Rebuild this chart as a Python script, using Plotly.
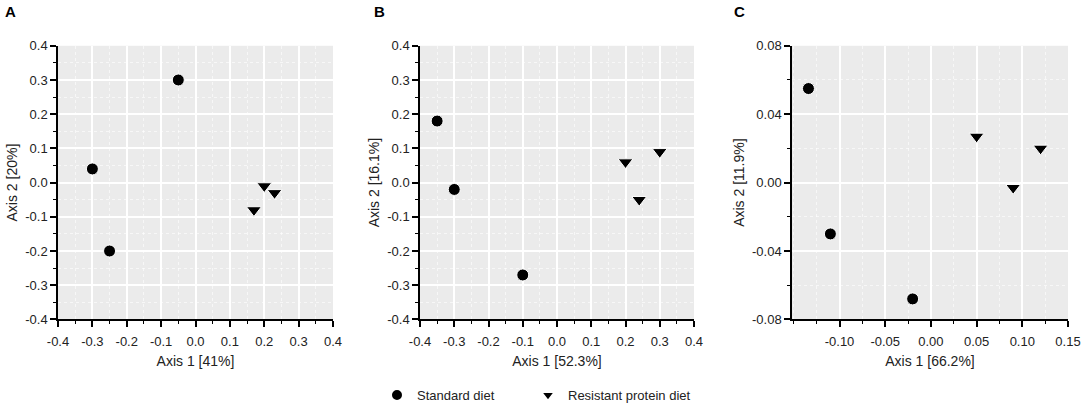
import plotly.graph_objects as go

# PCoA coordinates
a_std_x = [-0.05, -0.30, -0.25]
a_std_y = [0.30, 0.04, -0.20]
a_res_x = [0.20, 0.23, 0.17]
a_res_y = [-0.01, -0.03, -0.08]

b_std_x = [-0.35, -0.30, -0.10]
b_std_y = [0.18, -0.02, -0.27]
b_res_x = [0.20, 0.30, 0.24]
b_res_y = [0.06, 0.09, -0.05]

c_std_x = [-0.134, -0.11, -0.02]
c_std_y = [0.055, -0.03, -0.068]
c_res_x = [0.05, 0.09, 0.12]
c_res_y = [0.027, -0.003, 0.02]

panel_labels = ["A", "B", "C"]
x_titles = ["Axis 1 [41%]", "Axis 1 [52.3%]", "Axis 1 [66.2%]"]
y_titles = ["Axis 2 [20%]", "Axis 2 [16.1%]", "Axis 2 [11.9%]"]
group_names = ["Standard diet", "Resistant protein diet"]

# tick values / labels (hyphen minus as in the original)
ab_ticks = [-0.4, -0.3, -0.2, -0.1, 0.0, 0.1, 0.2, 0.3, 0.4]
ab_labels = ["-0.4", "-0.3", "-0.2", "-0.1", "0.0", "0.1", "0.2", "0.3", "0.4"]
c_xticks = [-0.10, -0.05, 0.00, 0.05, 0.10, 0.15]
c_xlabels = ["-0.10", "-0.05", "0.00", "0.05", "0.10", "0.15"]
c_yticks = [-0.08, -0.04, 0.00, 0.04, 0.08]
c_ylabels = ["-0.08", "-0.04", "0.00", "0.04", "0.08"]

FONT = "Liberation Sans, Arial, sans-serif"

fig = go.Figure()

panels = [
    (a_std_x, a_std_y, a_res_x, a_res_y),
    (b_std_x, b_std_y, b_res_x, b_res_y),
    (c_std_x, c_std_y, c_res_x, c_res_y),
]

for i, (sx, sy, rx, ry) in enumerate(panels):
    xa = "x" if i == 0 else "x%d" % (i + 1)
    ya = "y" if i == 0 else "y%d" % (i + 1)
    fig.add_trace(go.Scatter(
        x=sx, y=sy, mode="markers", name=group_names[0],
        xaxis=xa, yaxis=ya, showlegend=(i == 0), legend="legend",
        marker=dict(symbol="circle", size=12, color="black",
                    line=dict(color="white", width=1)),
    ))
    fig.add_trace(go.Scatter(
        x=rx, y=ry, mode="markers", name=group_names[1],
        xaxis=xa, yaxis=ya, showlegend=(i == 0), legend="legend2",
        marker=dict(symbol="triangle-down", size=13, color="black",
                    line=dict(color="white", width=1)),
    ))

W, H = 1084, 410
x_domains = [[58 / W, 333 / W], [420 / W, 694 / W], [792 / W, 1068 / W]]
y_domain = [1 - 321 / H, 1 - 46 / H]

x_ranges = [[-0.4, 0.4], [-0.4, 0.4], [-0.152, 0.15]]
y_ranges = [[-0.4, 0.4], [-0.4, 0.4], [-0.08, 0.08]]
x_tickvals = [ab_ticks, ab_ticks, c_xticks]
x_ticktext = [ab_labels, ab_labels, c_xlabels]
y_tickvals = [ab_ticks, ab_ticks, c_yticks]
y_ticktext = [ab_labels, ab_labels, c_ylabels]
x_minor = [0.05, 0.05, 0.025]
y_minor = [0.05, 0.05, 0.02]

common = dict(
    showline=True, linecolor="black", linewidth=1.5,
    ticks="outside", ticklen=6, tickwidth=1.5, tickcolor="black",
    showgrid=True, gridcolor="white", gridwidth=1.5,
    zeroline=False, automargin=False,
    tickfont=dict(family=FONT, size=13, color="#222"),
    title_font=dict(family=FONT, size=14, color="#222"),
)

minor_grid = dict(ticks="outside", ticklen=3, tickwidth=1, tickcolor="black",
                  showgrid=True, gridcolor="rgba(255,255,255,0.6)",
                  gridwidth=0.6, griddash="dot", tick0=0)

for i in range(3):
    sfx = "" if i == 0 else str(i + 1)
    fig.layout["xaxis" + sfx] = dict(
        common, domain=x_domains[i], range=x_ranges[i], anchor="y" + sfx,
        tickmode="array", tickvals=x_tickvals[i], ticktext=x_ticktext[i],
        ticklabelstandoff=3,
        title=dict(text=x_titles[i], standoff=8),
        minor=dict(minor_grid, dtick=x_minor[i]),
    )
    fig.layout["yaxis" + sfx] = dict(
        common, domain=y_domain, range=y_ranges[i], anchor="x" + sfx,
        tickmode="array", tickvals=y_tickvals[i], ticktext=y_ticktext[i],
        title=dict(text=y_titles[i], standoff=4),
        minor=dict(minor_grid, dtick=y_minor[i]),
    )

label_x = [3 / W, 372 / W, 732 / W]
for i, lab in enumerate(panel_labels):
    fig.add_annotation(
        text="<b>%s</b>" % lab, xref="paper", yref="paper",
        x=label_x[i], y=1 - 12 / H, xanchor="left", yanchor="middle",
        showarrow=False, font=dict(family=FONT, size=15, color="black"),
    )

legend_style = dict(
    orientation="h", xanchor="left", yanchor="middle",
    font=dict(family=FONT, size=13, color="#222"),
    itemsizing="constant", bgcolor="rgba(0,0,0,0)",
)

fig.update_layout(
    width=W, height=H,
    margin=dict(l=0, r=0, t=0, b=0),
    paper_bgcolor="white",
    plot_bgcolor="#ebebeb",
    font=dict(family=FONT, size=13, color="#222"),
    legend=dict(legend_style, x=377 / W, y=1 - 397 / H),
    legend2=dict(legend_style, x=528 / W, y=1 - 397 / H),
)

# the page body has a default 8px margin; drop it so the figure fills the window
fig.write_html("out.html", config={"displayModeBar": False},
               post_script="document.body.style.margin='0';")
